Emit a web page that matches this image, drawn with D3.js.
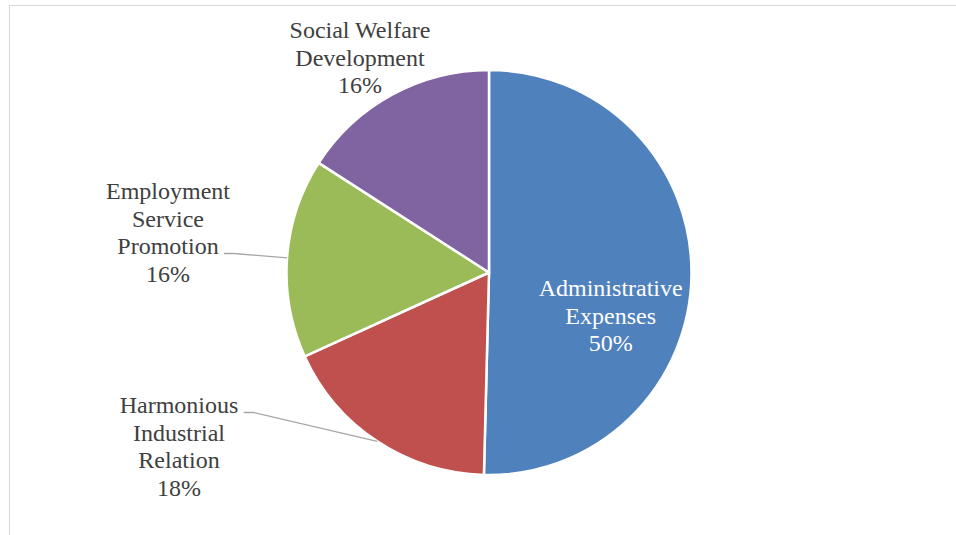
<!DOCTYPE html>
<html>
<head>
<meta charset="utf-8">
<script src="https://cdn.jsdelivr.net/npm/d3@7"></script>
</head>
<body style="margin:0">
<div id="root"></div>
<script>
// slice data, clockwise from 12 o'clock
const categories = [
  ['Administrative', 'Expenses'],
  ['Harmonious', 'Industrial', 'Relation'],
  ['Employment', 'Service', 'Promotion'],
  ['Social Welfare', 'Development'],
];
const values = [50.4, 17.8, 15.9, 15.9];
const colors = ['#4F81BD', '#C0504D', '#9BBB59', '#8064A2'];

const width = 956;
const height = 535;
const center = { x: 489, y: 272.5 };
const radius = 202.5;
const lineHeight = 27.5;

// label placement relative to the pie centre (first baseline, block centre x)
// leader: which line the leader attaches to and the x where it starts
const labelLayout = [
  { dx: 121.7, dy: 23.5, inside: true },
  { dx: -310, dy: 140.5, leaderLine: 0, leaderX: -245.3 },
  { dx: -321, dy: -73.5, leaderLine: 2, leaderX: -265 },
  { dx: -129, dy: -234.5 },
];

const svg = d3.select('#root')
  .append('svg')
  .attr('width', width)
  .attr('height', height)
  .style('display', 'block');

// chart area border (only top/left fall inside the picture)
svg.append('rect')
  .attr('x', 9.5)
  .attr('y', 5.5)
  .attr('width', 1000)
  .attr('height', 600)
  .attr('fill', 'none')
  .attr('stroke', '#d9d9d9')
  .attr('stroke-width', 1);

const g = svg.append('g')
  .attr('transform', `translate(${center.x} ${center.y})`);

const pie = d3.pie().sort(null).value(d => d);
const arcs = pie(values);
const total = d3.sum(values);
const arc = d3.arc().innerRadius(0).outerRadius(radius);

g.selectAll('.slice')
  .data(arcs)
  .enter()
  .append('path')
  .attr('class', 'slice')
  .attr('d', arc)
  .attr('fill', (d, i) => colors[i])
  .attr('stroke', '#fff')
  .attr('stroke-width', 2.5)
  .attr('stroke-linejoin', 'round');

// leader lines
arcs.forEach((d, i) => {
  const lay = labelLayout[i];
  if (lay.leaderLine === undefined) return;
  const mid = (d.startAngle + d.endAngle) / 2;
  const ex = radius * Math.sin(mid);
  const ey = -radius * Math.cos(mid);
  const sy = lay.dy + lay.leaderLine * lineHeight - 0.5;
  g.append('polyline')
    .attr('points', `${lay.leaderX},${sy} ${lay.leaderX + 10},${sy} ${ex},${ey}`)
    .attr('fill', 'none')
    .attr('stroke', '#a6a6a6')
    .attr('stroke-width', 1.3);
});

// labels, one text element per line
arcs.forEach((d, i) => {
  const lay = labelLayout[i];
  const lines = categories[i].concat([Math.round(d.value / total * 100) + '%']);
  g.selectAll(null)
    .data(lines)
    .enter()
    .append('text')
    .attr('x', lay.dx)
    .attr('y', (t, j) => lay.dy + j * lineHeight)
    .style('font-family', '"Liberation Serif", "Times New Roman", serif')
    .style('font-size', '24px')
    .attr('text-anchor', 'middle')
    .style('fill', lay.inside ? '#ffffff' : '#404040')
    .text(t => t);
});
</script>
</body>
</html>
